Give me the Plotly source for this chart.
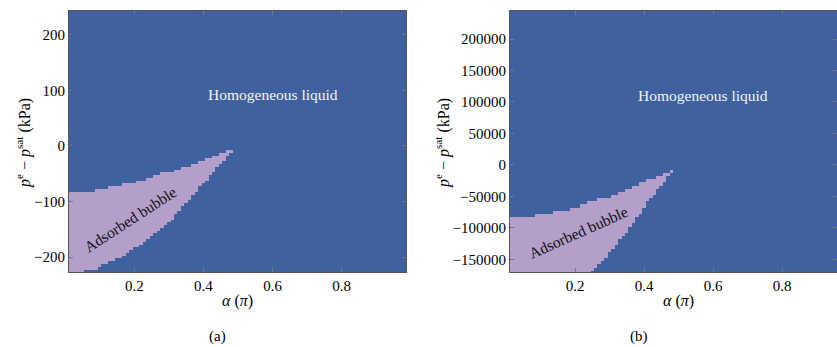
import numpy as np
import plotly.graph_objects as go

# Wetting angle alpha (in units of pi) at which the bubble boundary was sampled
alpha = [0.01, 0.02, 0.03, 0.04, 0.05, 0.06, 0.07, 0.08, 0.09, 0.10,
         0.11, 0.12, 0.13, 0.14, 0.15, 0.16, 0.17, 0.18, 0.19, 0.20,
         0.21, 0.22, 0.23, 0.24, 0.25, 0.26, 0.27, 0.28, 0.29, 0.30,
         0.31, 0.32, 0.33, 0.34, 0.35, 0.36, 0.37, 0.38, 0.39, 0.40,
         0.41, 0.42, 0.43, 0.44, 0.45, 0.46, 0.47, 0.48, 0.49]

# Panel (a): upper / lower limits of the adsorbed-bubble region, p^e - p^sat
upper_a = [-83, -83, -83, -83, -83, -83, -83, -82, -79, -78,
           -77, -76, -75, -74, -73, -72, -70, -69, -68, -67,
           -65, -64, -62, -60, -58, -55, -53, -50, -49, -47,
           -46, -44, -42, -40, -38, -36, -34, -32, -30, -27,
           -24, -22, -19, -16, -13, -11, -10, -9, -8]
lower_a = [-240, -240, -240, -240, -240, -224, -222, -221, -220, -217,
           -214, -212, -209, -206, -203, -200, -196, -192, -188, -184,
           -180, -176, -172, -168, -163, -158, -154, -148, -142, -136,
           -130, -123, -116, -109, -102, -95, -88, -81, -74, -67,
           -60, -53, -46, -39, -32, -25, -19, -13, -9]

# Panel (b): same quantity for the second case
upper_b = [-85000, -85000, -85000, -85000, -85000, -85000, -85000, -81000, -80000, -79000,
           -78000, -77000, -76000, -75000, -74000, -73000, -72000, -71000, -70000, -68500,
           -67000, -65000, -63000, -60000, -58000, -56500, -55000, -54000, -52500, -51000,
           -49000, -46500, -44000, -41500, -39000, -36500, -34000, -31500, -29000, -26500,
           -24500, -22500, -20500, -18500, -16500, -14000, -11000, -8000, -5500]
lower_b = [-200000, -200000, -200000, -200000, -200000, -200000, -200000, -200000, -200000, -200000,
           -200000, -200000, -200000, -200000, -200000, -200000, -200000, -200000, -200000, -200000,
           -200000, -200000, -200000, -200000, -168000, -163000, -158000, -152000, -145000, -138000,
           -131000, -125000, -119000, -113000, -106000, -98000, -91000, -83000, -76000, -67000,
           -59000, -51000, -45000, -38500, -32000, -25500, -19000, -12500, -6000]

# Tick values and labels
x_ticks = [0.2, 0.4, 0.6, 0.8]
x_ticklabels = ["0.2", "0.4", "0.6", "0.8"]
y_ticks_a = [200, 100, 0, -100, -200]
y_ticklabels_a = ["200", "100", "0", "\u2212100", "\u2212200"]
y_ticks_b = [200000, 150000, 100000, 50000, 0, -50000, -100000, -150000]
y_ticklabels_b = ["200000", "150000", "100000", "50000", "0",
                  "\u221250000", "\u2212100000", "\u2212150000"]

BLUE = "#3F61A0"
LAVENDER = "#B49FCA"
FONT = "'Liberation Serif', 'Times New Roman', 'DejaVu Serif', serif"


def phase_grid(upper, lower, y_start, y_stop, y_step):
    """Phase map on a regular (alpha, p) grid: 1 inside the bubble region, 0 elsewhere."""
    xs = np.round(np.arange(0.01, 0.995, 0.01), 2)
    ys = np.arange(y_start, y_stop + y_step / 2, y_step)
    z = np.zeros((len(ys), len(xs)))
    lookup = {a: (lo, up) for a, lo, up in zip(alpha, lower, upper)}
    for i, a in enumerate(xs):
        if a in lookup:
            lo, up = lookup[a]
            z[:, i] = ((ys >= lo) & (ys <= up)).astype(float)
    return xs, ys, z


xa, ya, za = phase_grid(upper_a, lower_a, -240, 250, 5)
xb, yb, zb = phase_grid(upper_b, lower_b, -175000, 250000, 5000)

cscale = [[0, BLUE], [1, LAVENDER]]

fig = go.Figure()
fig.add_trace(go.Heatmap(x=xa, y=ya, z=za, colorscale=cscale, zmin=0, zmax=1,
                         showscale=False, xaxis="x", yaxis="y", hoverinfo="skip"))
fig.add_trace(go.Heatmap(x=xb, y=yb, z=zb, colorscale=cscale, zmin=0, zmax=1,
                         showscale=False, xaxis="x2", yaxis="y2", hoverinfo="skip"))

W, H = 837, 347
ydom = [1 - 272 / H, 1 - 11 / H]

axis_common = dict(
    showline=True, linecolor="#555555", linewidth=1, mirror="ticks",
    ticks="inside", ticklen=4, tickcolor="#777777", tickwidth=1,
    showgrid=False, zeroline=False,
    tickfont=dict(family=FONT, size=15, color="black"),
)

fig.update_layout(
    width=W, height=H,
    margin=dict(l=0, r=0, t=0, b=0),
    paper_bgcolor="white", plot_bgcolor=BLUE,
    showlegend=False,
    font=dict(family=FONT),
    xaxis=dict(domain=[69 / W, 406 / W], range=[0.011, 0.986], anchor="y",
               tickvals=x_ticks, ticktext=x_ticklabels, **axis_common),
    yaxis=dict(domain=ydom, range=[-227, 243], anchor="x",
               tickvals=y_ticks_a, ticktext=y_ticklabels_a, **axis_common),
    xaxis2=dict(domain=[510 / W, 1.0], range=[0.011, 0.959], anchor="y2",
                tickvals=x_ticks, ticktext=x_ticklabels, **axis_common),
    yaxis2=dict(domain=ydom, range=[-170200, 244500], anchor="x2",
                tickvals=y_ticks_b, ticktext=y_ticklabels_b, **axis_common),
)

ytitle = "<i>p</i><sup>e</sup> \u2212 <i>p</i><sup>sat</sup> (kPa)"
xtitle = "<i>\u03b1</i> (<i>\u03c0</i>)"

center = dict(xanchor="center", yanchor="middle", showarrow=False)

ann = []
# Axis titles and panel captions
for xpix in (23, 442):
    ann.append(dict(x=xpix / W, y=1 - 143 / H, xref="paper", yref="paper",
                    text=ytitle, textangle=-90,
                    font=dict(family=FONT, size=16, color="black"), **center))
for xpix in (237, 678):
    ann.append(dict(x=xpix / W, y=1 - 301 / H, xref="paper", yref="paper",
                    text=xtitle,
                    font=dict(family=FONT, size=16, color="black"), **center))
for xpix, cap in [(218, "(a)"), (639, "(b)")]:
    ann.append(dict(x=xpix / W, y=1 - 336 / H, xref="paper", yref="paper",
                    text=cap,
                    font=dict(family=FONT, size=15, color="black"), **center))

# Region labels
ann.append(dict(x=0.601, y=93, xref="x", yref="y", text="Homogeneous liquid",
                font=dict(family=FONT, size=15.5, color="#F2F2F7"), **center))
ann.append(dict(x=0.570, y=110700, xref="x2", yref="y2", text="Homogeneous liquid",
                font=dict(family=FONT, size=15.5, color="#F2F2F7"), **center))
ann.append(dict(x=0.1876, y=-132, xref="x", yref="y", text="Adsorbed bubble",
                textangle=-33,
                font=dict(family=FONT, size=15.5, color="#111111"), **center))
ann.append(dict(x=0.208, y=-106900, xref="x2", yref="y2", text="Adsorbed bubble",
                textangle=-24,
                font=dict(family=FONT, size=15.5, color="#111111"), **center))

fig.update_layout(annotations=ann)

fig.write_html("out.html")
